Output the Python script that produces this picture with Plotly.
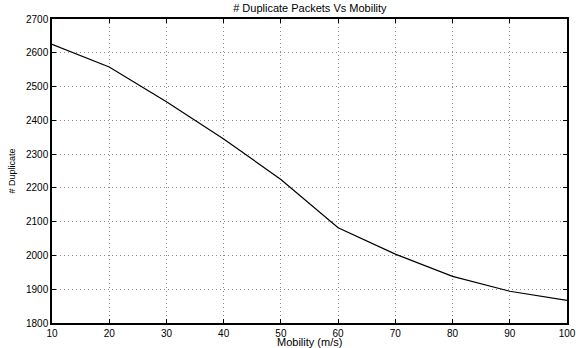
import plotly.graph_objects as go

mobility = [10, 20, 30, 40, 50, 60, 70, 80, 90, 100]
duplicates = [2625, 2558, 2455, 2345, 2225, 2082, 2004, 1938, 1894, 1867]
x_ticks = [10, 20, 30, 40, 50, 60, 70, 80, 90, 100]
y_ticks = [1800, 1900, 2000, 2100, 2200, 2300, 2400, 2500, 2600, 2700]

fig = go.Figure()
fig.add_trace(go.Scatter(x=mobility, y=duplicates, mode="lines",
                         line=dict(color="black", width=1.2), showlegend=False))

axis_common = dict(
    showline=True, linecolor="black", linewidth=1.5, mirror="ticks",
    ticks="inside", ticklen=4, tickcolor="black", tickwidth=1,
    showgrid=True, gridcolor="rgba(0,0,0,0.45)", griddash="1px,3px", gridwidth=1,
    zeroline=False, tickfont=dict(size=10, color="black"),
)
fig.update_xaxes(range=[10, 100], tickvals=x_ticks, automargin=False, **axis_common)
fig.update_yaxes(range=[1800, 2700], tickvals=y_ticks, automargin=False, **axis_common,
                 title=dict(text="# Duplicate", font=dict(size=9, color="black"), standoff=9))

fig.add_annotation(text="Mobility (m/s)", xref="paper", yref="paper", x=0.5, y=0,
                   xanchor="center", yanchor="middle", yshift=-19, showarrow=False,
                   font=dict(size=11, color="black"))

fig.update_layout(
    width=576, height=348,
    margin=dict(l=52, r=9, t=19, b=25),
    paper_bgcolor="white", plot_bgcolor="white",
    font=dict(family="Liberation Sans, Arial, sans-serif", size=10, color="black"),
    title=dict(text="# Duplicate Packets Vs Mobility", x=0.538, xanchor="center",
               y=0.977, yanchor="middle", font=dict(size=11, color="black")),
)
fig.write_html("out.html", config={"displayModeBar": False},
               post_script="document.body.style.margin='0';")
